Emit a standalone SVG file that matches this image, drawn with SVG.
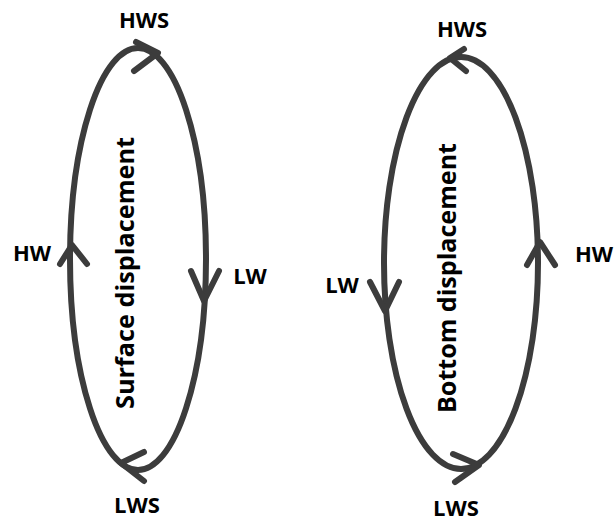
<svg xmlns="http://www.w3.org/2000/svg" width="615" height="523" viewBox="0 0 615 523">
<style>
.loop{fill:none;stroke:#3c3c3c;stroke-width:6}
.arr{fill:none;stroke:#3c3c3c;stroke-width:6;stroke-linecap:round;stroke-linejoin:round}
.lbl{font-family:"Open Sans","Liberation Sans",sans-serif;font-weight:bold;font-size:22px;fill:#000;text-anchor:middle}
.vt{font-family:"Open Sans","Liberation Sans",sans-serif;font-weight:bold;font-size:25px;fill:#000;text-anchor:middle}
</style>
<rect width="615" height="523" fill="#fff"/>
<g id="surface">
<ellipse class="loop" cx="138" cy="259" rx="68" ry="211"/>
<g class="connectors">
<path class="arr" d="M136,42 L158,53 L134,71"/>
<path class="arr" d="M191,271 L204,301 L219,271"/>
<path class="arr" d="M144,452 L121,463 L144,481"/>
<path class="arr" d="M60,264 L72,245 L87,264"/>
</g>
<text class="vt" transform="translate(134,273) rotate(-90)" textLength="272" lengthAdjust="spacingAndGlyphs">Surface displacement</text>
</g>
<g id="bottom">
<ellipse class="loop" cx="461" cy="263" rx="77" ry="206"/>
<g class="connectors">
<path class="arr" d="M464,49 L450,58 L466,71"/>
<path class="arr" d="M370,282 L385,311 L399,282"/>
<path class="arr" d="M453,454 L479,465 L455,482"/>
<path class="arr" d="M527,265 L540,242 L555,265"/>
</g>
<text class="vt" transform="translate(456,278) rotate(-90)" textLength="270" lengthAdjust="spacingAndGlyphs">Bottom displacement</text>
</g>
<g id="labels-left">
<text class="lbl" x="144" y="28">HWS</text>
<text class="lbl" x="32" y="261">HW</text>
<text class="lbl" x="250" y="284">LW</text>
<text class="lbl" x="137" y="513">LWS</text>
</g>
<g id="labels-right">
<text class="lbl" x="462" y="37">HWS</text>
<text class="lbl" x="342" y="293">LW</text>
<text class="lbl" x="594" y="262">HW</text>
<text class="lbl" x="456" y="516">LWS</text>
</g>
</svg>
